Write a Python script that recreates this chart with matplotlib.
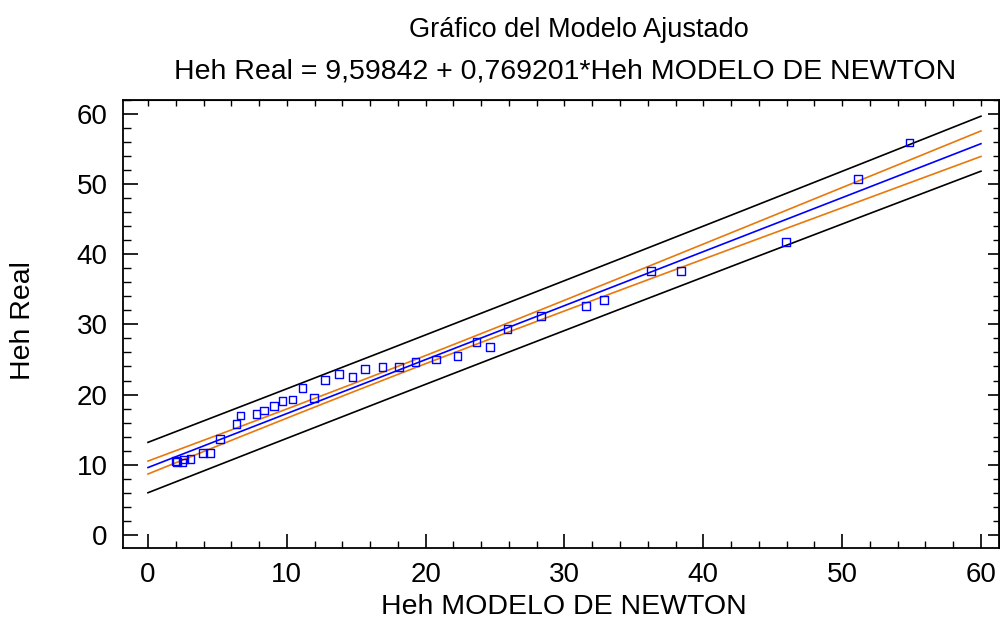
import numpy as np
import matplotlib
matplotlib.use("Agg")
import matplotlib.pyplot as plt
from matplotlib.ticker import MultipleLocator

plt.rcParams['font.family'] = ['Liberation Sans', 'DejaVu Sans']

# Data
x_model = [2.01, 2.11, 2.49, 2.59, 3.07, 3.98, 4.46, 5.18, 6.38, 6.67,
           7.82, 8.35, 9.06, 9.69, 10.41, 11.13, 11.94, 12.76, 13.74, 14.73,
           15.64, 16.90, 18.06, 19.26, 20.76, 22.30, 23.65, 24.63, 25.90, 28.30,
           31.56, 32.84, 36.24, 38.40, 45.95, 51.15, 54.84]
y_real = [10.57, 10.40, 10.30, 10.76, 10.80, 11.70, 11.70, 13.65, 15.80, 17.00,
          17.20, 17.70, 18.40, 19.10, 19.30, 20.90, 19.50, 22.10, 22.90, 22.50,
          23.60, 23.90, 23.90, 24.60, 25.00, 25.50, 27.50, 26.80, 29.30, 31.20,
          32.60, 33.50, 37.60, 37.60, 41.70, 50.70, 55.90]

INTERCEPT = 9.59842
SLOPE = 0.769201
T95 = 2.03  # t quantile, 95%, n-2 df

title1 = "Gráfico del Modelo Ajustado"
title2 = "Heh Real = 9,59842 + 0,769201*Heh MODELO DE NEWTON"
xlabel = "Heh MODELO DE NEWTON"
ylabel = "Heh Real"

x = np.array(x_model)
y = np.array(y_real)
n = len(x)
resid = y - (INTERCEPT + SLOPE * x)
s = np.sqrt(np.sum(resid ** 2) / (n - 2))
xbar = x.mean()
sxx = np.sum((x - xbar) ** 2)

xs = np.linspace(0, 60, 200)
fit = INTERCEPT + SLOPE * xs
se_mean = s * np.sqrt(1.0 / n + (xs - xbar) ** 2 / sxx)
se_pred = s * np.sqrt(1.0 + 1.0 / n + (xs - xbar) ** 2 / sxx)

fig = plt.figure(figsize=(10, 6.24), dpi=100)
ax = fig.add_axes([0.123, 0.122, 0.876, 0.718])

blue = '#0000ff'
orange = '#e8780a'
ax.plot(xs, fit + T95 * se_pred, color='black', lw=1.2)
ax.plot(xs, fit - T95 * se_pred, color='black', lw=1.2)
ax.plot(xs, fit + T95 * se_mean, color=orange, lw=1.2)
ax.plot(xs, fit - T95 * se_mean, color=orange, lw=1.2)
ax.plot(xs, fit, color=blue, lw=1.2)
ax.scatter(x, y, marker='s', s=30, facecolors='none', edgecolors=blue, linewidths=1.0, zorder=5)

ax.set_xlim(-1.8, 61.3)
ax.set_ylim(-1.85, 62.0)
ax.xaxis.set_major_locator(MultipleLocator(10))
ax.xaxis.set_minor_locator(MultipleLocator(2))
ax.yaxis.set_major_locator(MultipleLocator(10))
ax.yaxis.set_minor_locator(MultipleLocator(2))
ax.tick_params(axis='x', which='major', direction='in', length=10, width=1.2, labelsize=20, pad=10)
ax.tick_params(axis='x', which='minor', direction='in', length=5, width=1.0)
ax.tick_params(axis='y', which='major', direction='in', length=11, width=1.2, labelsize=20, pad=11)
ax.tick_params(axis='y', which='minor', direction='in', length=6, width=1.0)
for sp in ax.spines.values():
    sp.set_linewidth(1.3)

secx = ax.secondary_xaxis('top')
secx.xaxis.set_major_locator(MultipleLocator(2))
secx.tick_params(direction='in', length=4, width=1.0, labeltop=False)
secy = ax.secondary_yaxis('right')
secy.yaxis.set_major_locator(MultipleLocator(10))
secy.yaxis.set_minor_locator(MultipleLocator(2))
secy.tick_params(which='major', direction='in', length=8, width=1.2, labelright=False)
secy.tick_params(which='minor', direction='in', length=4, width=1.0)

ax.set_xlabel(xlabel, fontsize=20.5, va='center')
ax.xaxis.set_label_coords(0.503, -0.132)
ax.set_ylabel(ylabel, fontsize=20.5, va='center')
ax.yaxis.set_label_coords(-0.114, 0.507)
fig.text(0.579, 0.952, title1, ha='center', va='center', fontsize=19.5)
fig.text(0.565, 0.885, title2, ha='center', va='center', fontsize=20.5)

fig.savefig('out.png', dpi=100)
